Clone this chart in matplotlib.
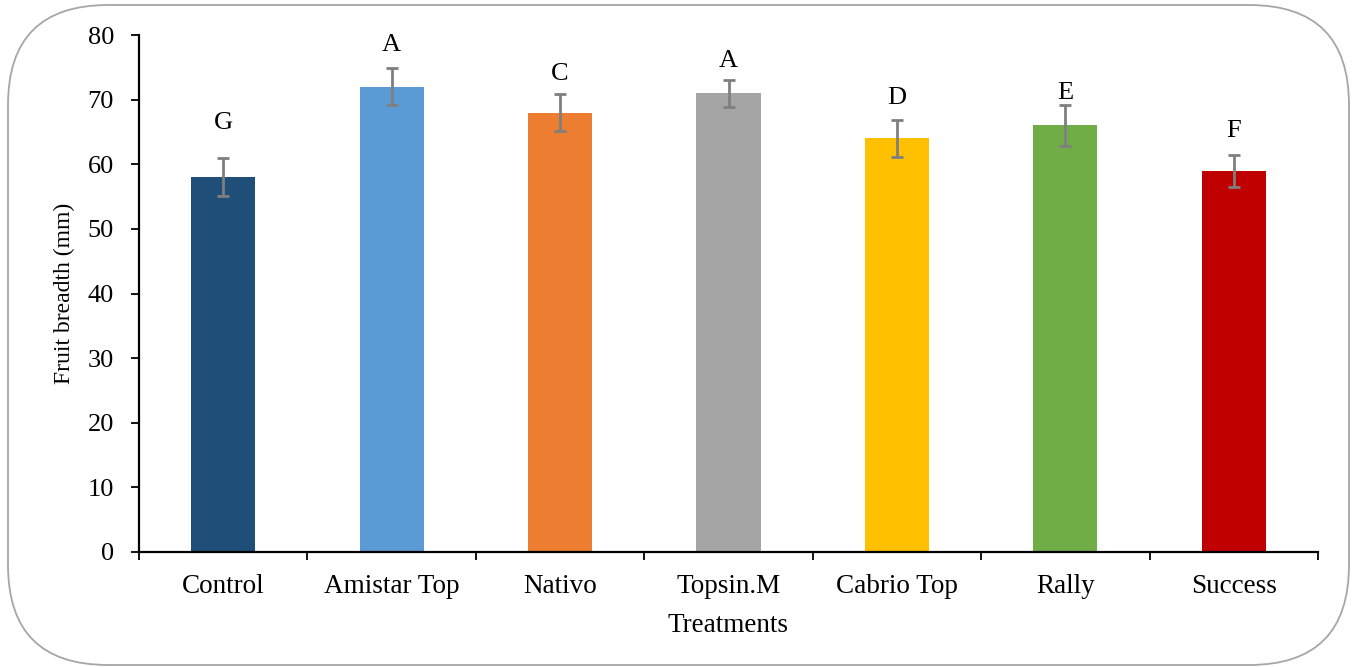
import matplotlib
matplotlib.use("Agg")
import matplotlib.pyplot as plt
from matplotlib.patches import FancyBboxPatch

plt.rcParams['font.family'] = ['Liberation Serif', 'DejaVu Serif']

treatments = ["Control", "Amistar Top", "Nativo", "Topsin.M", "Cabrio Top", "Rally", "Success"]
means = [58, 72, 68, 71, 64, 66, 59]
errors = [2.9, 2.9, 2.8, 2.1, 2.9, 3.2, 2.5]
letters = ["G", "A", "C", "A", "D", "E", "F"]
letter_y = [66.4, 78.4, 73.9, 76.0, 70.2, 71.1, 65.2]
colors = ["#1F4E79", "#5B9BD5", "#ED7D31", "#A5A5A5", "#FFC000", "#70AD47", "#C00000"]

W, H = 1353, 667
fig = plt.figure(figsize=(W / 100, H / 100), dpi=100)

# background axes for the rounded outer border (pixel coordinates)
bg = fig.add_axes([0, 0, 1, 1], zorder=-1)
bg.set_xlim(0, W)
bg.set_ylim(H, 0)
bg.axis('off')
bg.add_patch(FancyBboxPatch((8, 5), 1341, 660,
                            boxstyle="round,pad=0,rounding_size=100",
                            fill=False, edgecolor="#A6A6A6", linewidth=1.3))

ax = fig.add_axes([139 / W, 1 - 552 / H, (1318 - 139) / W, (552 - 35) / H])
ax.patch.set_alpha(0)

x = list(range(len(treatments)))
ax.bar(x, means, width=0.38, color=colors, zorder=2)
ax.errorbar(x, means, yerr=errors, fmt='none', ecolor="#7F7F7F",
            elinewidth=2, capsize=4.5, capthick=2, zorder=3)
for xi, lt, ly in zip(x, letters, letter_y):
    ax.text(xi, ly, lt, ha='center', va='center', fontsize=19, color='black')

ax.set_xlim(-0.5, len(treatments) - 0.5)
ax.set_ylim(0, 80)
ax.set_yticks(range(0, 81, 10))
ax.set_xticks(x)
ax.set_xticklabels(treatments)
ax.set_xticks([i - 0.5 for i in range(len(treatments) + 1)], minor=True)
ax.tick_params(axis='x', which='major', length=0, pad=16, labelsize=19.5)
ax.tick_params(axis='x', which='minor', length=6, width=1.3, direction='out')
ax.tick_params(axis='y', length=6, width=1.3, direction='out', labelsize=19, pad=12)

for s in ['top', 'right']:
    ax.spines[s].set_visible(False)
ax.spines['left'].set_linewidth(1.6)
ax.spines['bottom'].set_linewidth(1.6)

ax.set_ylabel("Fruit breadth (mm)", fontsize=17, labelpad=9)
ax.set_xlabel("Treatments", fontsize=19.5, labelpad=10)

fig.savefig("out.png", dpi=100)
